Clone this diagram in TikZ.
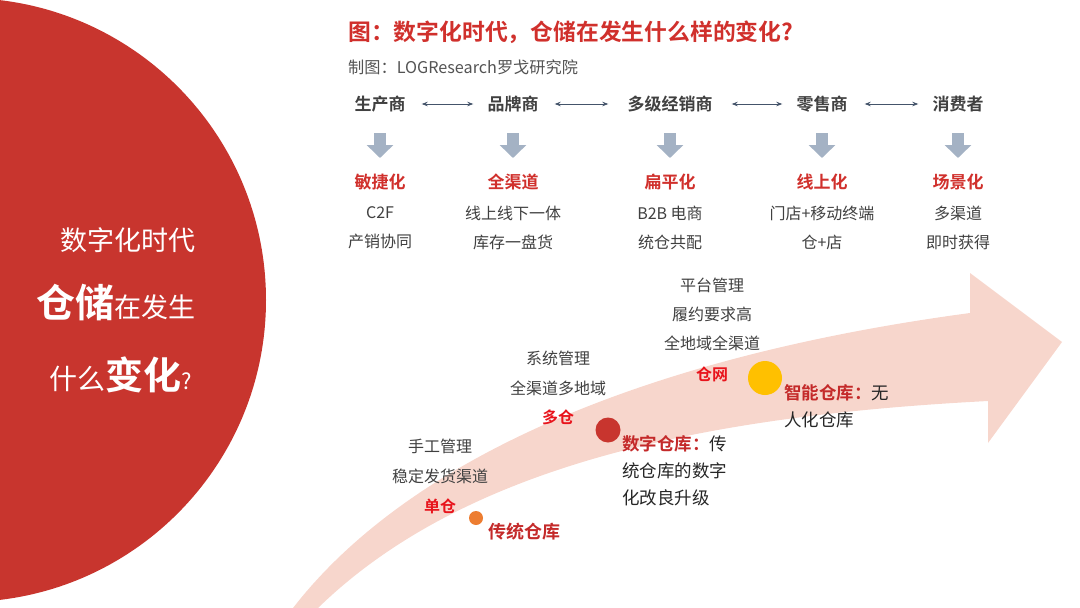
\documentclass[tikz,border=0pt]{standalone}
\usepackage{fontspec}
\setmainfont{Noto Sans CJK SC}[BoldFont={Noto Sans CJK SC Bold}]
\usetikzlibrary{arrows.meta}
\definecolor{deepred}{HTML}{C8352E}
\definecolor{titlered}{HTML}{D0302C}
\definecolor{hotred}{HTML}{E8141C}
\definecolor{darkred}{HTML}{C42A2A}
\definecolor{darktext}{HTML}{404040}
\definecolor{slate}{HTML}{44546A}
\definecolor{steel}{HTML}{A4B2C4}
\definecolor{blush}{HTML}{F7D6CC}
\definecolor{amber}{HTML}{FFC000}
\definecolor{tangerine}{HTML}{ED7D31}
\newcommand{\fs}[2]{\fontsize{#1}{#2}\selectfont}
\tikzset{
  /tikz/.cd,
  player/.style={font=\fs{17}{17}\bfseries,text=darktext,inner sep=0pt},
  trend/.style={font=\fs{17}{17}\bfseries,text=titlered,inner sep=0pt},
  detail/.style={font=\fs{16}{29},text=darktext,align=center,inner sep=0pt},
  link/.style={{Stealth[length=6pt,width=4.5pt]}-{Stealth[length=6pt,width=4.5pt]},slate,line width=0.8pt},
  drop/.style={-{Triangle[length=13pt,width=26pt]},steel,line width=12pt,shorten <=29pt,shorten >=24pt},
  stage/.style={font=\fs{16}{16}\bfseries,text=hotred,inner sep=0pt},
  phase/.style={font=\fs{16}{30},text=darktext,align=center,inner sep=0pt},
  story/.style={font=\fs{17.5}{27},text=black!85,align=left,inner sep=0pt,anchor=west},
  spot/.style={circle,inner sep=0pt}
}

\begin{document}
\begin{tikzpicture}[x=1pt,y=-1pt]
  \useasboundingbox (0,0) rectangle (1080,608);
  \clip (0,0) rectangle (1080,608);

  % left disc
  \fill[deepred] (-36,300) circle (302);
  \node[text=white,font=\fs{27}{27},inner sep=0pt,anchor=east] (q1) at (196,240) {数字化时代};
  \node[text=white,inner sep=0pt,anchor=east] (q2) at (196,303) {{\fs{39}{39}\bfseries 仓储}{\fs{27}{27}在发生}};
  \node[text=white,inner sep=0pt,anchor=east] (q3) at (192,375) {{\fs{28}{28}什么}{\fs{38}{38}\bfseries 变化}{\fs{22}{22}?}};

  % heading
  \node[font=\fs{22.8}{23}\bfseries,text=titlered,inner sep=0pt,anchor=west] (title) at (348,32) {图：数字化时代，仓储在发生什么样的变化?};
  \node[font=\fs{16.2}{16},text=darktext!90,inner sep=0pt,anchor=west] (source) at (348,67) {制图：LOGResearch罗戈研究院};

  % value chain
  \node[player] (c1) at (380,104) {生产商};
  \node[player] (c2) at (513,104) {品牌商};
  \node[player] (c3) at (670,104) {多级经销商};
  \node[player] (c4) at (822,104) {零售商};
  \node[player] (c5) at (958,104) {消费者};

  \draw[link,shorten <=16pt,shorten >=14pt] (c1.east) -- (c2.west);
  \draw[link,shorten <=16pt,shorten >=19pt] (c2.east) -- (c3.west);
  \draw[link,shorten <=19pt,shorten >=14pt] (c3.east) -- (c4.west);
  \draw[link,shorten <=17pt,shorten >=14pt] (c4.east) -- (c5.west);

  \node[trend] (t1) at (380,182) {敏捷化};
  \node[trend] (t2) at (513,182) {全渠道};
  \node[trend] (t3) at (670,182) {扁平化};
  \node[trend] (t4) at (822,182) {线上化};
  \node[trend] (t5) at (958,182) {场景化};

  \foreach \i in {1,...,5}
    \draw[drop] (c\i.center) -- (t\i.center);

  \node[detail] (e1) at (380,227.5) {C2F\\产销协同};
  \node[detail] (e2) at (513,227.5) {线上线下一体\\库存一盘货};
  \node[detail] (e3) at (670,227.5) {B2B 电商\\统仓共配};
  \node[detail] (e4) at (822,227.5) {门店+移动终端\\仓+店};
  \node[detail] (e5) at (958,227.5) {多渠道\\即时获得};

  % growth arrow
  \fill[blush] (293,608) .. controls (400,470) and (620,360) .. (970,313)
    -- (970,273) -- (1062,342) -- (988,443) -- (988,401)
    .. controls (720,415) and (470,460) .. (318,608) -- cycle;

  \node[spot,fill=tangerine,minimum size=14pt] (d1) at (476,518) {};
  \node[spot,fill=deepred,minimum size=25pt] (d2) at (608,430) {};
  \node[spot,fill=amber,minimum size=34pt] (d3) at (765,378) {};

  \node[phase] (p1) at (440,461) {手工管理\\稳定发货渠道};
  \node[stage] (s1) at (440,506) {单仓};
  \node[font=\fs{18}{18}\bfseries,text=darkred,inner sep=0pt,anchor=west] (w1) at (488,532) {传统仓库};

  \node[phase] (p2) at (558,373) {系统管理\\全渠道多地域};
  \node[stage] (s2) at (558,417) {多仓};
  \node[story] (w2) at (622,471) {{\bfseries\color{darkred}数字仓库：}传\\统仓库的数字\\化改良升级};

  \node[phase,font=\fs{16}{29}] (p3) at (712,314) {平台管理\\履约要求高\\全地域全渠道};
  \node[stage] (s3) at (712,374) {仓网};
  \node[story] (w3) at (784,406.5) {{\bfseries\color{darkred}智能仓库：}无\\人化仓库};
\end{tikzpicture}
\end{document}
